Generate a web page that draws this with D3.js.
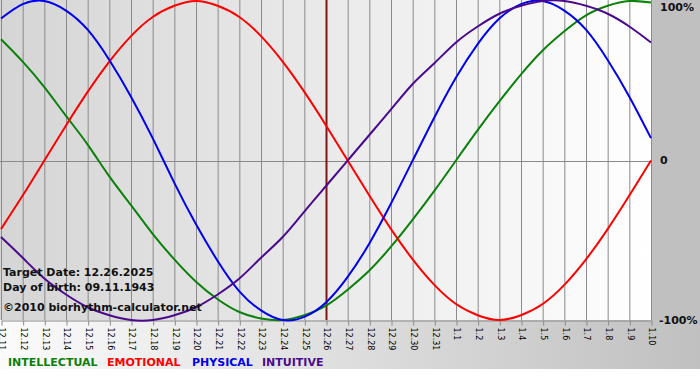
<!DOCTYPE html>
<html>
<head>
<meta charset="utf-8">
<script src="https://cdn.jsdelivr.net/npm/d3@7"></script>
<style>
  body { margin: 0; background: #fff; }
  svg { display: block; }
</style>
</head>
<body>
<svg id="chart"></svg>
<script>
// day labels on the x axis (month.day)
var days = ["12.11","12.12","12.13","12.14","12.15","12.16","12.17","12.18","12.19","12.20",
            "12.21","12.22","12.23","12.24","12.25","12.26","12.27","12.28","12.29","12.30",
            "12.31","1.1","1.2","1.3","1.4","1.5","1.6","1.7","1.8","1.9","1.10"];

// values in percent, one per day
var intellectual = [76,62,46,28,10,-10,-28,-46,-62,-76,-87,-95,-99,-100,-97,-91,-81,-69,-54,-37,-19,0,19,37,54,69,81,91,97,100,99];
var emotional    = [-43,-22,0,22,43,62,78,90,97,100,97,90,78,62,43,22,0,-22,-43,-62,-78,-90,-97,-100,-97,-90,-78,-62,-43,-22,0];
var physical     = [89,98,100,94,82,63,40,14,-14,-40,-63,-82,-94,-100,-98,-89,-73,-52,-27,0,27,52,73,89,98,100,94,82,63,40,14];
var intuitive    = [-48,-61,-74,-84,-92,-97,-100,-100,-97,-92,-84,-74,-61,-48,-32,-16,0,16,32,48,61,74,84,92,97,100,100,97,92,84,74];

var yTicks = [100, 0, -100];
var yTickLabels = ["100%", "0", "-100%"];

var targetDay = "12.26";
var infoLines = ["Target Date: 12.26.2025", "Day of birth: 09.11.1943", "\u00a92010 biorhythm-calculator.net"];

var series = [
    {name: "INTELLECTUAL", values: intellectual, color: "#0b800b"},
    {name: "EMOTIONAL",    values: emotional,    color: "#ff0000"},
    {name: "PHYSICAL",     values: physical,     color: "#0000ee"},
    {name: "INTUITIVE",    values: intuitive,    color: "#4b0a8c"}
];

var W = 700, H = 380;
var plotW = 652, plotH = 320;

var svg = d3.select("#chart").attr("width", W).attr("height", H);

// backgrounds
var defs = svg.append("defs");
var g1 = defs.append("linearGradient").attr("id", "plotbg").attr("x1", "0").attr("x2", "1").attr("y1", "0").attr("y2", "0");
g1.append("stop").attr("offset", "0").attr("stop-color", "#d5d5d5");
g1.append("stop").attr("offset", "1").attr("stop-color", "#ffffff");
var g2 = defs.append("linearGradient").attr("id", "axisbg").attr("x1", "0").attr("x2", "1").attr("y1", "0").attr("y2", "0");
g2.append("stop").attr("offset", "0").attr("stop-color", "#fbfbfb");
g2.append("stop").attr("offset", "1").attr("stop-color", "#c0c0c0");

svg.append("rect").attr("x", 0).attr("y", 320).attr("width", W).attr("height", 49).attr("fill", "url(#axisbg)");
svg.append("rect").attr("x", plotW).attr("y", 0).attr("width", W - plotW).attr("height", 320).attr("fill", "#c0c0c0");
svg.append("rect").attr("x", 0).attr("y", 0).attr("width", plotW).attr("height", plotH).attr("fill", "url(#plotbg)");

// scales
var xScale = d3.scalePoint().domain(days).range([1, 651]);
var yScale = d3.scaleLinear().domain([-100, 100]).range([320, 1]);

// vertical grid
svg.append("g").selectAll("line").data(days).enter().append("line")
    .attr("x1", d => xScale(d) + 0.5).attr("x2", d => xScale(d) + 0.5)
    .attr("y1", 0).attr("y2", 320)
    .attr("stroke", "#8a8a8a").attr("stroke-width", 1);

// zero line
svg.append("line")
    .attr("x1", 0).attr("x2", plotW)
    .attr("y1", Math.round(yScale(0)) + 0.5).attr("y2", Math.round(yScale(0)) + 0.5)
    .attr("stroke", "#8a8a8a");

// x axis
var xAxis = d3.axisBottom(xScale).tickSize(5).tickSizeOuter(0);
var ax = svg.append("g").attr("transform", "translate(0.5,320.5)").call(xAxis);
ax.select(".domain").attr("stroke", "#8a8a8a");
ax.selectAll(".tick line").attr("stroke", "#8a8a8a");
ax.selectAll(".tick text")
    .attr("transform", "rotate(90)")
    .attr("x", 7).attr("y", 0).attr("dy", "0.35em")
    .style("text-anchor", "start")
    .style("font-family", "DejaVu Sans")
    .style("font-size", "8px")
    .attr("fill", "#000");

// right labels
svg.append("g").selectAll("text").data(yTicks).enter().append("text")
    .attr("x", (d, i) => i === 2 ? 659 : 660)
    .attr("y", d => Math.min(Math.max(yScale(d), 7), 322))
    .attr("dy", "0.35em")
    .style("font-family", "DejaVu Sans")
    .style("font-weight", "bold")
    .style("font-size", "11px")
    .attr("fill", "#111")
    .text((d, i) => yTickLabels[i]);

// target date marker
svg.append("line")
    .attr("x1", xScale(targetDay) + 0.5).attr("x2", xScale(targetDay) + 0.5)
    .attr("y1", 0).attr("y2", 320)
    .attr("stroke", "#7d1515").attr("stroke-width", 2);

// curves
var line = d3.line()
    .x((d, i) => xScale(days[i]))
    .y(d => yScale(d))
    .curve(d3.curveNatural);

svg.append("g").selectAll("path").data(series).enter().append("path")
    .attr("d", d => line(d.values))
    .attr("fill", "none")
    .attr("stroke", d => d.color)
    .attr("stroke-width", 2);

// info text
svg.append("g").selectAll("text").data(infoLines).enter().append("text")
    .attr("x", 3)
    .attr("y", (d, i) => [276, 291, 311][i])
    .style("font-family", "DejaVu Sans")
    .style("font-weight", "bold")
    .style("font-size", "11px")
    .attr("fill", "#111")
    .text(d => d);

// legend
var legendX = [8, 107, 192, 262];
svg.append("g").selectAll("text").data(series).enter().append("text")
    .attr("x", (d, i) => legendX[i])
    .attr("y", 366)
    .style("font-family", "DejaVu Sans")
    .style("font-weight", "bold")
    .style("font-size", "11px")
    .attr("fill", d => d.color)
    .text(d => d.name);
</script>
</body>
</html>
